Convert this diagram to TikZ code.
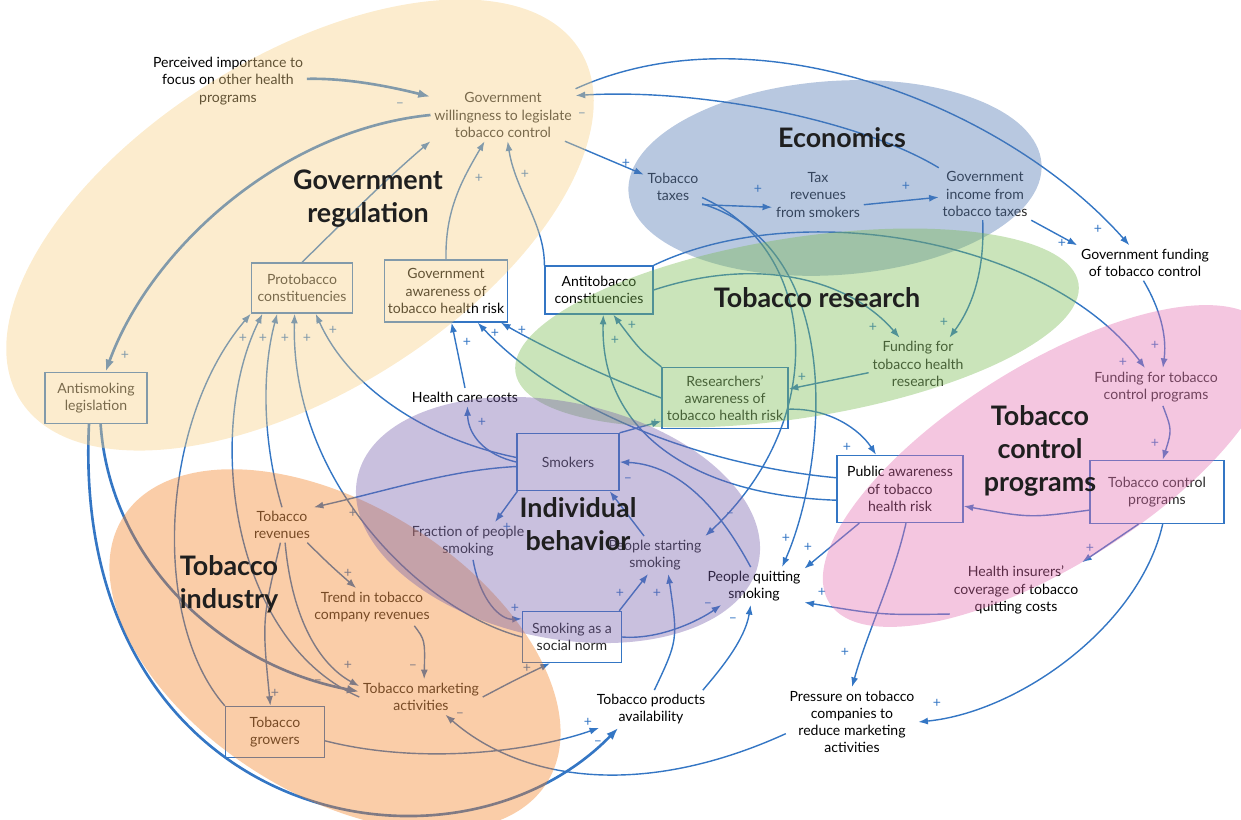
\documentclass[tikz,border=0pt]{standalone}
\usepackage{fontspec}
\setmainfont{Lato}
\usetikzlibrary{arrows.meta}

\definecolor{linkblue}{RGB}{52,118,196}
\definecolor{govcol}{RGB}{247,208,133}
\definecolor{econcol}{RGB}{77,117,177}
\definecolor{rescol}{RGB}{122,187,82}
\definecolor{indcol}{RGB}{242,130,37}
\definecolor{behavcol}{RGB}{120,97,172}
\definecolor{ctrlcol}{RGB}{227,112,177}

\newcommand{\varsize}{\fontsize{8}{9.8}\selectfont}
\newcommand{\sectsize}{\bfseries\fontsize{15.3}{18.8}\selectfont}

\begin{document}
\begin{tikzpicture}
  [
    x=0.02cm, y=-0.02cm,
    var/.style={align=center, font=\varsize, text=black!85, inner sep=2pt},
    varbox/.style={var, draw=linkblue, line width=0.75pt, inner sep=0pt},
    link/.style={draw=linkblue, line width=0.8pt, -{Latex[length=5.5pt,width=4pt]}},
    heavylink/.style={link, line width=1.5pt, -{Latex[length=7pt,width=5pt]}},
    pol/.style={font=\varsize, text=linkblue, inner sep=0pt},
    sector/.style={align=center, font=\sectsize, text=black!88},
  ]
  \useasboundingbox (0,0) rectangle (1241,820);

  % variables
  \node[var, text=black] (perc) at (228,81) {Perceived importance to\\focus on other health\\programs};
  \node[var] (gwill) at (503,115) {Government\\willingness to legislate\\tobacco control};
  \node[var] (taxes) at (673,187) {Tobacco\\taxes};
  \node[var] (taxrev) at (818,195) {Tax\\revenues\\from smokers};
  \node[var] (gincome) at (985,194) {Government\\income from\\tobacco taxes};
  \node[var, text=black] (gfund) at (1145,263) {Government funding\\of tobacco control};
  \node[varbox, minimum width=2.02cm, minimum height=1cm] (pro) at (302,288) {Protobacco\\constituencies};
  \node[varbox, minimum width=2.46cm, minimum height=1.24cm, text=black] (gaware) at (446,291) {Government\\awareness of\\tobacco health risk};
  \node[varbox, minimum width=2.16cm, minimum height=0.96cm, text=black] (anti) at (599,290) {Antitobacco\\constituencies};
  \node[var] (fundres) at (918,364) {Funding for\\tobacco health\\research};
  \node[var] (fundprog) at (1156,387) {Funding for tobacco\\control programs};
  \node[varbox, minimum width=2.04cm, minimum height=1.02cm] (antileg) at (96,398) {Antismoking\\legislation};
  \node[var, text=black] (hcc) at (465,397) {Health care costs};
  \node[varbox, minimum width=2.52cm, minimum height=1.22cm] (resaware) at (725,398) {Researchers'\\awareness of\\tobacco health risk};
  \node[varbox, minimum width=2.04cm, minimum height=1.14cm] (smokers) at (568,462) {Smokers};
  \node[varbox, minimum width=2.52cm, minimum height=1.34cm, text=black] (puaware) at (900,489) {Public awareness\\of tobacco\\health risk};
  \node[varbox, minimum width=2.68cm, minimum height=1.26cm] (tcp) at (1157,492) {Tobacco control\\programs};
  \node[var] (trev) at (282,525) {Tobacco\\revenues};
  \node[var] (frac) at (468,541) {Fraction of people\\smoking};
  \node[var] (start) at (655,555) {People starting\\smoking};
  \node[var, text=black] (quit) at (754,586) {People quitting\\smoking};
  \node[var, text=black] (insur) at (1016,590) {Health insurers'\\coverage of tobacco\\quitting costs};
  \node[var] (trend) at (372,607) {Trend in tobacco\\company revenues};
  \node[varbox, minimum width=1.98cm, minimum height=1.02cm] (norm) at (572,637) {Smoking as a\\social norm};
  \node[var] (mkt) at (421,697) {Tobacco marketing\\activities};
  \node[var, text=black] (avail) at (651,709) {Tobacco products\\availability};
  \node[varbox, minimum width=1.98cm, minimum height=1.02cm] (growers) at (275,732) {Tobacco\\growers};
  \node[var, text=black] (pressure) at (852,722) {Pressure on tobacco\\companies to\\reduce marketing\\activities};

  % links
  \draw[heavylink] (perc) .. controls (340,78) and (380,84) .. (gwill);
  \draw[link] (gwill) -- (taxes);
  \draw[link] (gwill.north east) .. controls (760,5) and (1010,110) .. (gfund);
  \draw[link] (gincome.north west) .. controls (860,120) and (700,88) .. (gwill.15);
  \draw[heavylink] (gwill.west) .. controls (280,130) and (150,250) .. (antileg);
  \draw[link] (pro.north) .. controls (340,225) and (385,180) .. (gwill.south west);
  \draw[link] (gaware.north) .. controls (445,210) and (462,180) .. (gwill.-125);
  \draw[link] (anti.north west) .. controls (545,225) and (515,190) .. (gwill.-80);
  \draw[link] (taxes.south east) -- (taxrev.-165);
  \draw[link] (taxrev.-12) -- (gincome.-176);
  \draw[link] (gincome.south east) -- (gfund.north west);
  \draw[link] (gfund.-95) .. controls (1155,300) and (1168,330) .. (fundprog.70);
  \draw[link] (fundprog.-70) .. controls (1172,430) .. (tcp.80);
  \draw[link] (gincome.-95) .. controls (985,275) and (970,310) .. (fundres.40);
  \draw[link] (anti.north east) .. controls (800,195) and (1050,240) .. (fundprog.120);
  \draw[link] (anti.east) .. controls (760,255) and (850,280) .. (fundres.125);
  \draw[link] (fundres.-170) -- (resaware.8);
  \draw[link] (resaware.-10) .. controls (830,408) and (860,430) .. (puaware.125);
  \draw[link] (smokers.north east) -- (resaware.200);
  \draw[link] (resaware.north west) .. controls (640,350) .. (anti.-60);
  \draw[link] (puaware.190) .. controls (690,495) and (600,430) .. (anti.-80);
  \draw[link] (puaware.170) .. controls (700,465) and (560,410) .. (gaware.-45);
  \draw[link] (resaware.west) .. controls (600,375) and (540,345) .. (gaware.-30);
  \draw[link] (hcc.north) -- (gaware.-80);
  \draw[link] (smokers.west) .. controls (485,455) and (468,435) .. (hcc.-75);
  \draw[link] (smokers.175) .. controls (430,440) and (350,390) .. (pro.-62);
  \draw[link] (smokers.185) .. controls (450,470) and (390,490) .. (trev.north east);
  \draw[link] (trev.north) .. controls (262,440) and (262,370) .. (pro.-134);
  \draw[link] (growers.north west) .. controls (150,620) and (160,420) .. (pro.south west);
  \draw[link] (mkt.west) .. controls (230,640) and (205,430) .. (pro.-147);
  \draw[link] (norm.west) .. controls (420,610) and (290,480) .. (pro.-106);
  \draw[heavylink] (antileg.-80) .. controls (110,560) and (220,665) .. (mkt.175);
  \draw[heavylink] (antileg.-105) .. controls (70,820) and (450,900) .. (avail.-150);
  \draw[link] (growers.-10) .. controls (420,765) and (530,752) .. (avail.-160);
  \draw[link] (pressure.-170) .. controls (640,800) and (520,780) .. (mkt.-36);
  \draw[link] (mkt.east) .. controls (515,680) .. (norm.-130);
  \draw[link] (trev.-35) .. controls (330,565) .. (trend.130);
  \draw[link] (trend.-24) .. controls (425,640) .. (mkt.80);
  \draw[link] (trev.-95) .. controls (262,620) .. (growers.100);
  \draw[link] (trev.-80) .. controls (292,620) and (320,665) .. (mkt.170);
  \draw[link] (taxes.-20) .. controls (820,250) and (830,420) .. (start.north east);
  \draw[link] (taxes.-30) .. controls (850,250) and (825,470) .. (quit.34);
  \draw[link] (quit.100) .. controls (720,510) and (680,465) .. (smokers.east);
  \draw[link] (start.120) -- (smokers.-35);
  \draw[link] (smokers.-150) -- (frac.35);
  \draw[link] (frac.-75) .. controls (480,600) and (500,620) .. (norm.160);
  \draw[link] (norm.29) -- (start.-110);
  \draw[link] (avail.80) .. controls (678,640) .. (start.-55);
  \draw[link] (norm.east) .. controls (660,640) and (700,620) .. (quit.-150);
  \draw[link] (avail.20) .. controls (720,670) and (745,640) .. (quit.-100);
  \draw[link] (insur.200) .. controls (880,615) .. (quit.-18);
  \draw[link] (tcp.-120) -- (insur.north east);
  \draw[link] (tcp.-80) .. controls (1140,625) and (1020,712) .. (pressure.east);
  \draw[link] (puaware.-80) .. controls (893,580) and (868,630) .. (pressure.north);
  \draw[link] (tcp.-165) .. controls (1030,518) .. (puaware.-15);
  \draw[link] (puaware.-140) -- (quit.19);

  % polarities
  \foreach \px/\py/\sg [count=\k] in {400/105/--, 582/115/--, 479/178/+, 525/174/+, 626/163/+,
      758/189/+, 906/186/+, 1098/229/+, 1062/243/+, 1155/345/+, 1123/362/+, 1155/443/+,
      873/327/+, 944/322/+, 802/377/+, 847/447/+, 125/355/+, 243/338/+, 263/338/+,
      285/338/+, 307/338/+, 333/330/+, 467/342/+, 495/333/+, 522/330/+, 615/340/+,
      632/325/+, 655/423/+, 482/422/+, 353/513/+, 507/527/+, 628/480/--, 730/515/--,
      786/538/+, 808/547/+, 822/592/+, 1090/548/+, 845/652/+, 937/703/+, 515/608/+,
      620/593/+, 657/593/+, 708/605/--, 733/620/--, 527/668/+, 460/715/--, 588/722/+,
      598/743/--, 348/573/+, 413/667/--, 348/665/+, 318/682/--, 275/693/+}
    \node[pol] (pol\k) at (\px,\py) {\sg};

  % sectors, laid over the links
  \begin{scope}[fill opacity=0.4]
    \fill[govcol, rotate around={32:(300,225)}] (300,225) ellipse [x radius=330, y radius=168];
    \fill[econcol, rotate around={4:(835,178)}] (835,178) ellipse [x radius=207, y radius=97];
    \fill[rescol, rotate around={9:(797,328)}] (797,328) ellipse [x radius=285, y radius=90];
    \fill[indcol, rotate around={-32:(335,650)}] (335,650) ellipse [x radius=250, y radius=145];
    \fill[behavcol, rotate around={-12:(558,520)}] (558,520) ellipse [x radius=205, y radius=118];
    \fill[ctrlcol, rotate around={32:(1048,466)}] (1048,466) ellipse [x radius=258, y radius=100];
  \end{scope}

  \node[sector] (tgov) at (368,199) {Government\\regulation};
  \node[sector] (tecon) at (842,138) {Economics};
  \node[sector] (tres) at (817,298) {Tobacco research};
  \node[sector] (tbehav) at (578,524) {Individual\\behavior};
  \node[sector] (tctrl) at (1040,451) {Tobacco\\control\\programs};
  \node[sector] (tind) at (229,584) {Tobacco\\industry};

\end{tikzpicture}
\end{document}
